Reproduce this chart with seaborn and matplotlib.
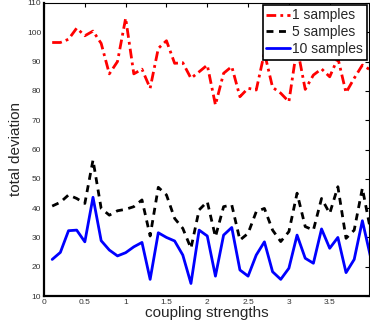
import numpy as np
import pandas as pd
import matplotlib
matplotlib.use("Agg")
import matplotlib.pyplot as plt
import seaborn as sns

coupling = [round(0.1 * k, 1) for k in range(1, 41)]

samples_1 = [96.5, 96.5, 97.6, 101.4, 98.8, 100.4, 96.2, 85.8, 90.0, 104.8,
             85.8, 87.4, 80.9, 94.5, 97.1, 89.4, 89.6, 84.3, 86.5, 88.8,
             75.2, 86.0, 88.3, 78.0, 80.9, 80.3, 93.0, 81.2, 79.2, 76.3,
             95.0, 80.5, 85.4, 87.5, 84.8, 91.2, 79.4, 84.3, 88.8, 87.1]

samples_5 = [40.7, 42.0, 44.5, 43.3, 41.6, 56.4, 39.9, 37.6, 39.1, 39.6,
             40.5, 42.8, 30.5, 47.1, 44.5, 36.5, 33.1, 26.3, 39.4, 42.2,
             30.2, 40.5, 41.1, 29.1, 31.4, 38.8, 39.9, 32.5, 28.6, 32.0,
             45.1, 33.7, 32.5, 43.3, 38.2, 47.3, 29.7, 32.5, 46.8, 32.5]

samples_10 = [22.5, 24.9, 32.3, 32.5, 28.5, 43.7, 28.9, 25.7, 23.7, 24.8,
              26.8, 28.3, 15.7, 31.6, 30.0, 28.8, 24.0, 14.3, 32.5, 30.5,
              16.8, 30.8, 33.4, 18.9, 16.8, 24.0, 28.5, 18.3, 15.7, 19.5,
              30.8, 22.9, 21.2, 32.9, 26.3, 30.0, 18.0, 22.5, 35.7, 23.4]

labels = ["1 samples", "5 samples", "10 samples"]
x_ticks = [0, 0.5, 1, 1.5, 2, 2.5, 3, 3.5]
x_tick_labels = ["0", "0.5", "1", "1.5", "2", "2.5", "3", "3.5"]
y_ticks = list(range(10, 111, 10))

sns.set_style("white")
plt.rcParams['font.family'] = ['Liberation Sans', 'DejaVu Sans']

fig = plt.figure(figsize=(3.7, 3.25), dpi=100)
ax = fig.add_axes([0.119, 0.089, 0.878, 0.902])

styles = [("red", (0, (3.5, 1.5, 1, 1.5))), ("black", (0, (2.5, 2))), ("blue", "-")]
for vals, lab, (col, ls) in zip([samples_1, samples_5, samples_10], labels, styles):
    df = pd.DataFrame({"x": coupling, "y": vals})
    sns.lineplot(data=df, x="x", y="y", ax=ax, color=col, linestyle=ls,
                 linewidth=2, label=lab)

ax.set_xlim(0, 3.98)
ax.set_ylim(10, 110)
ax.set_xticks(x_ticks)
ax.set_xticklabels(x_tick_labels)
ax.set_yticks(y_ticks)
ax.tick_params(direction="in", top=True, right=True, length=3, width=0.8,
               labelsize=6, colors="black", labelcolor="#333333", pad=2)
for side in ["left", "bottom"]:
    ax.spines[side].set_linewidth(1.6)
for side in ["top", "right"]:
    ax.spines[side].set_linewidth(0.8)
for s in ax.spines.values():
    s.set_color("black")
ax.set_xlabel("coupling strengths", fontsize=11, labelpad=0)
ax.set_ylabel("total deviation", fontsize=11, labelpad=3)

leg = ax.legend(loc="upper right", fontsize=10, frameon=True, fancybox=False,
                framealpha=1, edgecolor="black", borderpad=0.25, labelspacing=0.2,
                handlelength=1.7, handletextpad=0.2, borderaxespad=0.15)
leg.get_frame().set_linewidth(1.2)

fig.savefig("out.png", dpi=100)
